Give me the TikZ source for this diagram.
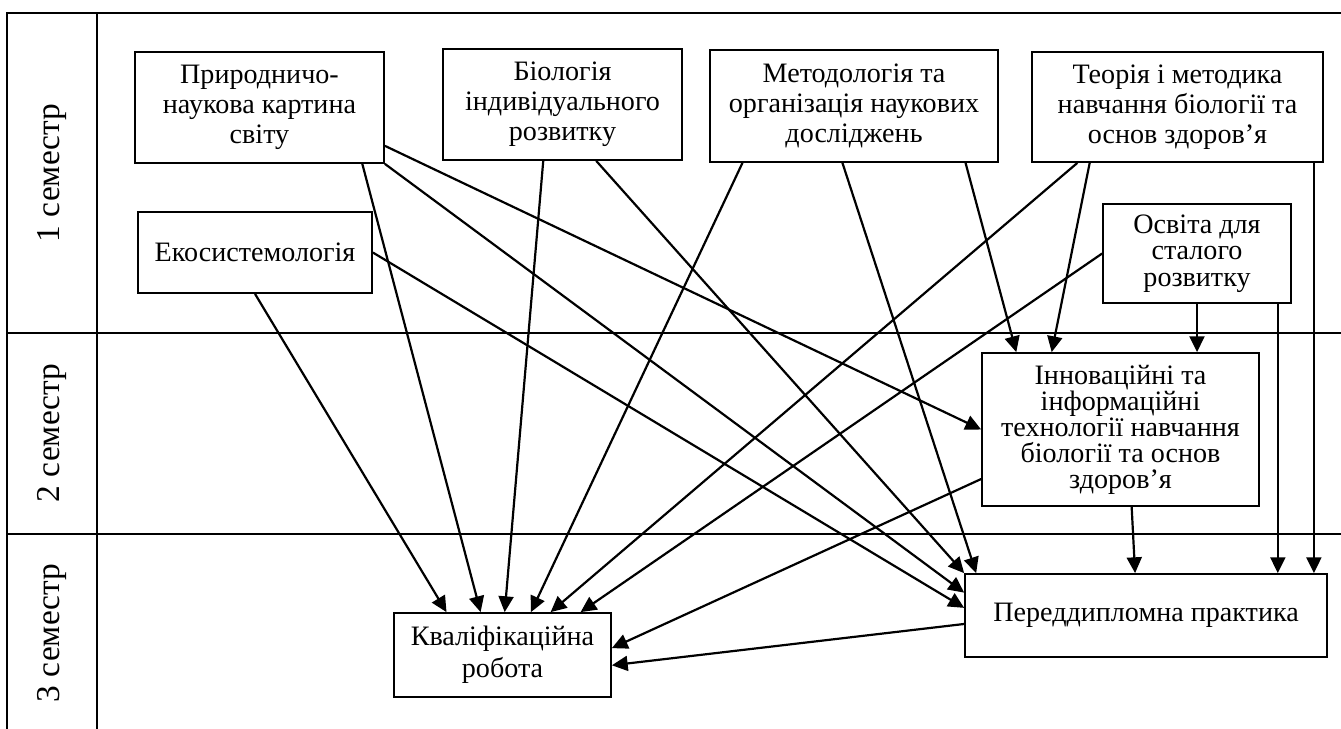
\documentclass[tikz,border=0pt]{standalone}
\usepackage{fontspec}
\setmainfont{Liberation Serif}
\usetikzlibrary{calc,positioning,arrows.meta}

\begin{document}
\begin{tikzpicture}[x=0.02cm,y=-0.02cm,>={Triangle[length=9pt,width=8.5pt]},
  box/.style={draw,line width=1pt,align=center,inner sep=0pt,font=\fontsize{16}{17}\selectfont},
  grid/.style={line width=1.2pt},
  sem/.style={rotate=90,font=\fontsize{19}{22}\selectfont},
  link/.style={->,line width=1.25pt}]
  \useasboundingbox (0,0) rectangle (1341,729);

  \draw[grid] (1341,13) -- (7,13) -- (7,729);
  \draw[grid] (97,13) -- (97,729);
  \draw[grid] (7,333) -- (1341,333);
  \draw[grid] (7,534) -- (1341,534);

  \node[sem] (sem1) at (52,173) {1 семестр};
  \node[sem] (sem2) at (52,433) {2 семестр};
  \node[sem] (sem3) at (52,633) {3 семестр};

  %%%%

  \node[box,minimum width=4.98cm,minimum height=2.22cm] (pryr) at (259.5,107.5) {Природничо-\\наукова картина\\світу};
  \node[box,minimum width=4.78cm,minimum height=2.22cm] (biol) at (562.5,104.5) {Біологія\\індивідуального\\розвитку};
  \node[box,minimum width=5.76cm,minimum height=2.24cm] (metod) at (854,106) {Методологія та\\організація наукових\\досліджень};
  \node[box,minimum width=5.82cm,minimum height=2.2cm] (teor) at (1177.5,107) {Теорія і методика\\навчання біології та\\основ здоров’я};
  \node[box,minimum width=4.68cm,minimum height=1.62cm] (eko) at (255,252.5) {Екосистемологія};
  \node[box,minimum width=3.76cm,minimum height=1.98cm,font=\fontsize{16}{15}\selectfont] (osvita) at (1197,253.5) {Освіта для\\сталого\\розвитку};
  \node[box,minimum width=5.54cm,minimum height=3.06cm,font=\fontsize{16}{14.8}\selectfont] (innov) at (1120.5,429.5) {Інноваційні та\\інформаційні\\технології навчання\\біології та основ\\здоров’я};
  \node[box,minimum width=7.24cm,minimum height=1.66cm] (pered) at (1146,615.5) {Переддипломна практика};
  \node[box,minimum width=4.34cm,minimum height=1.68cm,font=\fontsize{16}{18.2}\selectfont] (kval) at (502.5,655) {Кваліфікаційна\\робота};

  %%%%

  \draw[link] ($(pryr.south west)!0.91!(pryr.south east)$) -- ($(kval.north west)!0.40!(kval.north east)$);
  \draw[link] (pryr.south east) -- ($(pered.north west)!0.23!(pered.south west)$);
  \draw[link] ($(pryr.north east)!0.84!(pryr.south east)$) -- (innov.west);

  \draw[link] ($(biol.south west)!0.42!(biol.south east)$) -- ($(kval.north west)!0.51!(kval.north east)$);
  \draw[link] ($(biol.south west)!0.64!(biol.south east)$) -- (pered.north west);

  \draw[link] ($(metod.south west)!0.115!(metod.south east)$) -- ($(kval.north west)!0.63!(kval.north east)$);
  \draw[link] ($(metod.south west)!0.46!(metod.south east)$) -- ($(pered.north west)!0.033!(pered.north east)$);
  \draw[link] ($(metod.south west)!0.885!(metod.south east)$) -- ($(innov.north west)!0.126!(innov.north east)$);

  \coordinate (teor_r) at ($(teor.south west)!0.966!(teor.south east)$);
  \draw[link] ($(teor.south west)!0.158!(teor.south east)$) -- ($(kval.north west)!0.72!(kval.north east)$);
  \draw[link] ($(teor.south west)!0.2!(teor.south east)$) -- ($(innov.north west)!0.253!(innov.north east)$);
  \draw[link] (teor_r) -- (teor_r |- pered.north);

  \coordinate (osvita_r) at ($(osvita.south west)!0.926!(osvita.south east)$);
  \draw[link] (osvita.west) -- ($(kval.north west)!0.857!(kval.north east)$);
  \draw[link] (osvita.south) -- (osvita.south |- innov.north);
  \draw[link] (osvita_r) -- (osvita_r |- pered.north);

  \draw[link] (eko.south) -- ($(kval.north west)!0.244!(kval.north east)$);
  \draw[link] (eko.east) -- ($(pered.north west)!0.41!(pered.south west)$);

  %%%%

  \draw[link] ($(innov.north west)!0.82!(innov.south west)$) -- ($(kval.north east)!0.42!(kval.south east)$);
  \draw[link] ($(innov.south west)!0.54!(innov.south east)$) -- ($(pered.north west)!0.47!(pered.north east)$);
  \draw[link] ($(pered.north west)!0.6!(pered.south west)$) -- ($(kval.north east)!0.62!(kval.south east)$);

\end{tikzpicture}
\end{document}
